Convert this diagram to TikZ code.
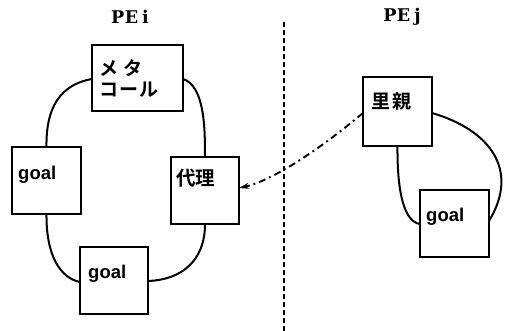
\documentclass[tikz,border=0pt]{standalone}
\usepackage{fontspec}
\newfontfamily\jp{Noto Sans CJK JP Bold}
\newfontfamily\gsans{Liberation Sans}[BoldFont={Liberation Sans Bold}]
\newfontfamily\tserif{DejaVu Serif}[BoldFont={DejaVu Serif Bold}]
\usetikzlibrary{arrows.meta}
\begin{document}
\begin{tikzpicture}[x=1pt,y=-1pt,
  box/.style={draw,line width=2.7pt,minimum width=#1,minimum height=67pt,inner sep=0pt,outer sep=0pt},
  box/.default=69pt,
  gtxt/.style={anchor=base west,inner sep=0pt},
  jtxt/.style={anchor=base west,inner sep=0pt},
  ttl/.style={inner sep=0pt},
  link/.style={line width=2pt},
  sep/.style={line width=2.6pt,dash pattern=on 5pt off 3pt}]
\useasboundingbox (0,0) rectangle (517,331);
% titles
\node[ttl] (ti) at (130,17) {\tserif\bfseries\fontsize{17.5}{19}\selectfont P\kern0.5pt E\kern4pt i};
\node[ttl] (tj) at (402,17) {\tserif\bfseries\fontsize{17.5}{19}\selectfont P\kern0.5pt E\kern4pt j};
% separator
\coordinate (s1) at (284,22);
\coordinate (s2) at (284,331);
\draw[sep] (s1) -- (s2);
% boxes
\node[box=91pt,minimum height=66pt] (meta) at (137.5,78) {};
\node[box] (gl) at (46.5,180.5) {};
\node[box=68pt] (dr) at (205,190.5) {};
\node[box=68pt] (gb) at (114,280.5) {};
\node[box,minimum height=69pt] (so) at (397.5,111.5) {};
\node[box] (gr) at (454.5,223.5) {};
% texts
\node[jtxt] (t1) at (99,76) {\jp\fontsize{19}{20}\selectfont メ\hspace{5pt}タ};
\node[jtxt] (t2) at (99,97) {\jp\fontsize{19}{20}\selectfont コ\hspace{1pt}ー\hspace{1pt}ル};
\node[gtxt] (t3) at (18,180) {\gsans\bfseries\fontsize{18.5}{20}\selectfont goal};
\node[gtxt] (t4) at (88,279) {\gsans\bfseries\fontsize{18.5}{20}\selectfont goal};
\node[gtxt] (t5) at (426,222) {\gsans\bfseries\fontsize{18.5}{20}\selectfont goal};
\node[jtxt] (t6) at (176,186) {\jp\fontsize{19.5}{20}\selectfont 代理};
\node[jtxt] (t7) at (371,109) {\jp\fontsize{19}{20}\selectfont 里\hspace{2pt}親};
% left ring
\draw[link] (meta.west |- 0,79) .. controls (52,86) and (46,120) .. (gl.north);
\draw[link] (meta.east |- 0,79) .. controls (205,86) and (205,130) .. (dr.north);
\draw[link] (gl.south) .. controls (46,255) and (60,278) .. (gb.west |- 0,282);
\draw[link] (dr.south) .. controls (205,262) and (180,280) .. (gb.east |- 0,281);
% right pair
\draw[link] (so.south) .. controls (397,195) and (405,222) .. (gr.west |- 0,224);
\draw[link] (so.east |- 0,113) .. controls (490,130) and (520,170) .. (gr.east |- 0,221);
% dash-dot arrow
\draw[line width=1.9pt,dash pattern=on 7pt off 4pt on 1.9pt off 4pt,-{Stealth[length=10pt,width=6pt]}]
  (so.west |- 0,113) .. controls (325,145) and (275,180) .. (dr.east |- 0,188);
\end{tikzpicture}
\end{document}
